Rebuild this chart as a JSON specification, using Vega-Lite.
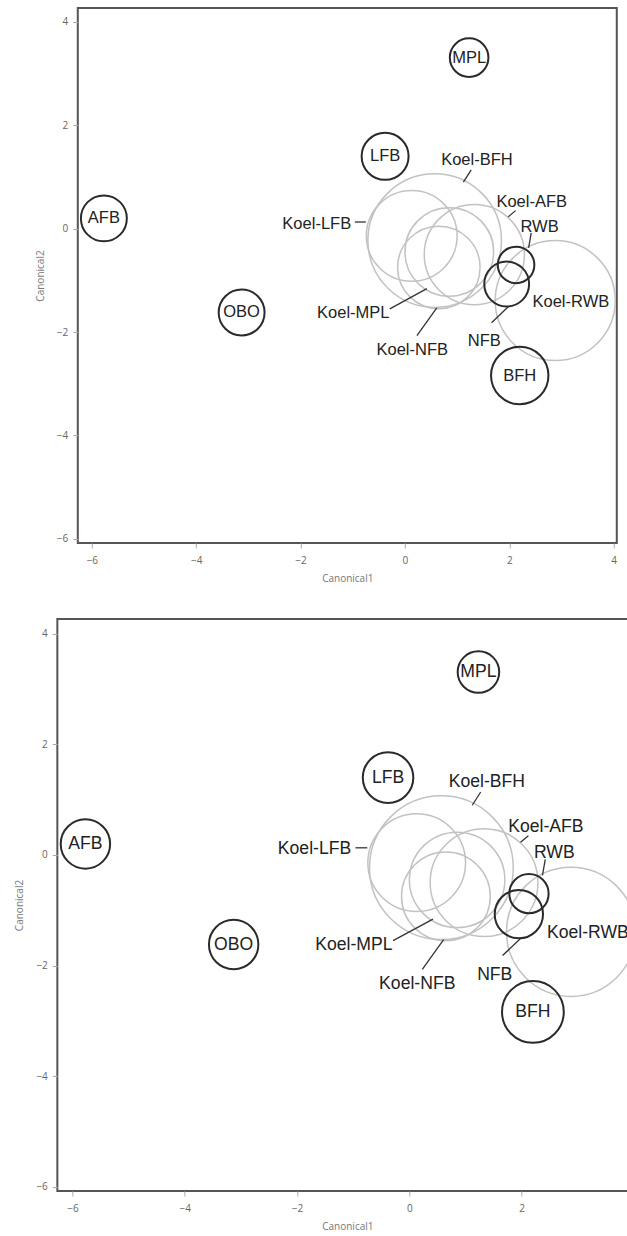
{
  "$schema": "https://vega.github.io/schema/vega-lite/v6.json",
  "padding": {"left": 13, "top": 7, "right": 0, "bottom": 0},
  "background": "white",
  "center": true,
  "spacing": 34,
  "resolve": {"scale": {"x": "independent", "y": "independent", "size": "independent"}},
  "datasets": {
    "circles": [
      {"name": "Koel-BFH", "kind": "koel", "inner": false, "x": 0.57, "y": -0.23, "r": 1.28},
      {"name": "Koel-LFB", "kind": "koel", "inner": false, "x": 0.13, "y": -0.14, "r": 0.87},
      {"name": "Koel-AFB", "kind": "koel", "inner": false, "x": 1.33, "y": -0.5, "r": 0.96},
      {"name": "Koel-MPL", "kind": "koel", "inner": false, "x": 0.85, "y": -0.45, "r": 0.85},
      {"name": "Koel-NFB", "kind": "koel", "inner": false, "x": 0.65, "y": -0.75, "r": 0.79},
      {"name": "Koel-RWB", "kind": "koel", "inner": false, "x": 2.88, "y": -1.39, "r": 1.15},
      {"name": "MPL", "kind": "bird", "inner": true, "x": 1.23, "y": 3.31, "r": 0.37},
      {"name": "LFB", "kind": "bird", "inner": true, "x": -0.38, "y": 1.4, "r": 0.45},
      {"name": "AFB", "kind": "bird", "inner": true, "x": -5.77, "y": 0.2, "r": 0.44},
      {"name": "OBO", "kind": "bird", "inner": true, "x": -3.13, "y": -1.62, "r": 0.44},
      {"name": "BFH", "kind": "bird", "inner": true, "x": 2.2, "y": -2.84, "r": 0.55},
      {"name": "RWB", "kind": "bird", "inner": false, "x": 2.13, "y": -0.7, "r": 0.35},
      {"name": "NFB", "kind": "bird", "inner": false, "x": 1.95, "y": -1.07, "r": 0.43}
    ],
    "labels": [
      {"label": "Koel-BFH", "x": 1.38, "y": 1.32},
      {"label": "Koel-LFB", "x": -1.69, "y": 0.1},
      {"label": "Koel-AFB", "x": 2.43, "y": 0.51},
      {"label": "RWB", "x": 2.58, "y": 0.04},
      {"label": "Koel-RWB", "x": 3.18, "y": -1.41},
      {"label": "NFB", "x": 1.52, "y": -2.18},
      {"label": "Koel-MPL", "x": -0.99, "y": -1.63},
      {"label": "Koel-NFB", "x": 0.14, "y": -2.34}
    ],
    "leaders": [
      {"x": 1.27, "y": 1.14, "x2": 1.12, "y2": 0.9},
      {"x": -0.96, "y": 0.13, "x2": -0.75, "y2": 0.13},
      {"x": 2.12, "y": 0.35, "x2": 1.98, "y2": 0.23},
      {"x": 2.42, "y": -0.08, "x2": 2.37, "y2": -0.37},
      {"x": -0.29, "y": -1.55, "x2": 0.42, "y2": -1.16},
      {"x": 0.23, "y": -2.07, "x2": 0.61, "y2": -1.53},
      {"x": 1.66, "y": -1.82, "x2": 1.98, "y2": -1.51}
    ]
  },
  "config": {
    "view": {"stroke": "#555555", "strokeWidth": 2},
    "axis": {
      "grid": false, "domain": false, "tickColor": "#aaaaaa", "tickSize": 5,
      "labelFont": "Open Sans", "labelFontSize": 10, "labelColor": "#666666",
      "titleFont": "Open Sans", "titleFontSize": 10, "titleFontWeight": "normal", "titleColor": "#777777"
    }
  },
  "vconcat": [
    {
      "width": 539, "height": 535,
      "encoding": {
        "x": {"field": "x", "type": "quantitative", "scale": {"domain": [-6.27, 4.06], "nice": false, "zero": false},
              "axis": {"values": [-6, -4, -2, 0, 2, 4], "title": "Canonical1", "labelPadding": 7, "titlePadding": 8}},
        "y": {"field": "y", "type": "quantitative", "scale": {"domain": [-6.08, 4.27], "nice": false, "zero": false},
              "axis": {"values": [-6, -4, -2, 0, 2, 4], "title": "Canonical2", "labelPadding": 5, "titlePadding": 11}}
      },
      "layer": [
        {"data": {"name": "circles"}, "transform": [{"filter": "datum.kind == 'koel'"}],
         "mark": {"type": "point", "shape": "circle", "filled": false, "stroke": "#c2c2c2", "strokeWidth": 1.5, "opacity": 1},
         "encoding": {"size": {"field": "r", "type": "quantitative", "scale": {"type": "pow", "exponent": 2, "domain": [0, 2], "range": [0, 43560]}, "legend": null}}},
        {"data": {"name": "circles"}, "transform": [{"filter": "datum.kind == 'bird'"}],
         "mark": {"type": "point", "shape": "circle", "filled": false, "stroke": "#2a2a2a", "strokeWidth": 2, "opacity": 1},
         "encoding": {"size": {"field": "r", "type": "quantitative", "scale": {"type": "pow", "exponent": 2, "domain": [0, 2], "range": [0, 43560]}, "legend": null}}},
        {"data": {"name": "leaders"},
         "mark": {"type": "rule", "stroke": "#333333", "strokeWidth": 1.3},
         "encoding": {"x2": {"field": "x2"}, "y2": {"field": "y2"}}},
        {"data": {"name": "circles"}, "transform": [{"filter": "datum.inner"}],
         "mark": {"type": "text", "font": "Liberation Sans", "fontSize": 16.5, "color": "#222222", "align": "center", "baseline": "middle"},
         "encoding": {"text": {"field": "name"}}},
        {"data": {"name": "labels"},
         "mark": {"type": "text", "font": "Liberation Sans", "fontSize": 16.5, "color": "#222222", "align": "center", "baseline": "middle"},
         "encoding": {"text": {"field": "label"}}}
      ]
    },
    {
      "width": 580, "height": 572,
      "encoding": {
        "x": {"field": "x", "type": "quantitative", "scale": {"domain": [-6.27, 4.06], "nice": false, "zero": false},
              "axis": {"values": [-6, -4, -2, 0, 2, 4], "title": "Canonical1", "labelPadding": 7, "titlePadding": 8}},
        "y": {"field": "y", "type": "quantitative", "scale": {"domain": [-6.08, 4.27], "nice": false, "zero": false},
              "axis": {"values": [-6, -4, -2, 0, 2, 4], "title": "Canonical2", "labelPadding": 5, "titlePadding": 11}}
      },
      "layer": [
        {"data": {"name": "circles"}, "transform": [{"filter": "datum.kind == 'koel'"}],
         "mark": {"type": "point", "shape": "circle", "filled": false, "stroke": "#c2c2c2", "strokeWidth": 1.5, "opacity": 1},
         "encoding": {"size": {"field": "r", "type": "quantitative", "scale": {"type": "pow", "exponent": 2, "domain": [0, 2], "range": [0, 50445]}, "legend": null}}},
        {"data": {"name": "circles"}, "transform": [{"filter": "datum.kind == 'bird'"}],
         "mark": {"type": "point", "shape": "circle", "filled": false, "stroke": "#2a2a2a", "strokeWidth": 2, "opacity": 1},
         "encoding": {"size": {"field": "r", "type": "quantitative", "scale": {"type": "pow", "exponent": 2, "domain": [0, 2], "range": [0, 50445]}, "legend": null}}},
        {"data": {"name": "leaders"},
         "mark": {"type": "rule", "stroke": "#333333", "strokeWidth": 1.3},
         "encoding": {"x2": {"field": "x2"}, "y2": {"field": "y2"}}},
        {"data": {"name": "circles"}, "transform": [{"filter": "datum.inner"}],
         "mark": {"type": "text", "font": "Liberation Sans", "fontSize": 17.6, "color": "#222222", "align": "center", "baseline": "middle"},
         "encoding": {"text": {"field": "name"}}},
        {"data": {"name": "labels"},
         "mark": {"type": "text", "font": "Liberation Sans", "fontSize": 17.6, "color": "#222222", "align": "center", "baseline": "middle"},
         "encoding": {"text": {"field": "label"}}}
      ]
    }
  ]
}
